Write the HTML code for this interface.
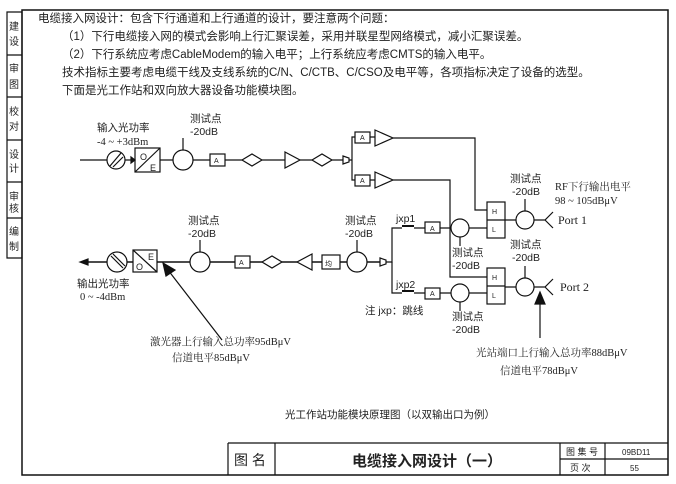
<!DOCTYPE html>
<html><head><meta charset="utf-8"><style>
body{margin:0;background:#fff;width:676px;height:484px;overflow:hidden;font-family:"Liberation Sans","Noto Sans CJK SC",sans-serif}
svg{position:absolute;left:0;top:0}
text{font-family:"Liberation Sans","Noto Sans CJK SC",sans-serif;fill:#222}
.s{font-family:"Liberation Serif","Noto Serif CJK SC",serif}
</style></head><body>
<svg width="676" height="484" viewBox="0 0 676 484" stroke="#111" fill="none" stroke-width="1.2">
<path d="M22 10H668V475H22Z" stroke-width="1.5"/>
<path d="M7 12H22V258H7Z"/>
<path d="M7 55H22M7 97H22M7 140H22M7 182H22M7 218H22"/>
<g stroke="none" fill="#333" font-size="10">
<text x="9" y="30">建</text><text x="9" y="45">设</text>
<text x="9" y="72">审</text><text x="9" y="88">图</text>
<text x="9" y="115">校</text><text x="9" y="130">对</text>
<text x="9" y="158">设</text><text x="9" y="172">计</text>
<text x="9" y="200">审</text><text x="9" y="212">核</text>
<text x="9" y="235">编</text><text x="9" y="250">制</text>
</g>
<g stroke="none" font-size="11.5" fill="#222">
<text x="38" y="22">电缆接入网设计：包含下行通道和上行通道的设计，要注意两个问题：</text>
<text x="62" y="40">（1）下行电缆接入网的模式会影响上行汇聚误差，采用并联星型网络模式，减小汇聚误差。</text>
<text x="62" y="58">（2）下行系统应考虑CableModem的输入电平；上行系统应考虑CMTS的输入电平。</text>
<text x="62" y="76">技术指标主要考虑电缆干线及支线系统的C/N、C/CTB、C/CSO及电平等，各项指标决定了设备的选型。</text>
<text x="62" y="94">下面是光工作站和双向放大器设备功能模块图。</text>
</g>
<path d="M80 160H107M125 160H135M160 160H173M193 160H210M225 160H242M262 160H285M300 160H312M332 160H343"/>
<circle cx="116" cy="160" r="9"/>
<path d="M110 166L121 153M113 167L123 157" />
<path d="M131 157L135 160L131 163Z" fill="#111"/>
<rect x="135" y="148" width="25" height="24"/><path d="M135 172L160 148"/>
<circle cx="183" cy="160" r="10"/><path d="M183 150V138"/>
<rect x="210" y="154" width="15" height="12"/>
<path d="M242 160L252 154L262 160L252 166Z"/>
<path d="M285 152L300 160L285 168Z"/>
<path d="M312 160L322 154L332 160L322 166Z"/>
<path d="M343 156L349 158V162L343 164Z"/>
<path d="M349 160H352M352 160V137H355M352 160V180H355"/>
<rect x="355" y="132" width="15" height="11"/><rect x="355" y="175" width="15" height="11"/>
<path d="M370 137H375M370 180H375"/>
<path d="M375 130L393 138L375 146Z"/><path d="M375 172L393 180L375 188Z"/>
<path d="M393 138H475V210H487M393 180H450V277H487"/>
<rect x="487" y="202" width="18" height="36"/><path d="M487 220H505"/>
<rect x="487" y="268" width="18" height="36"/><path d="M487 286H505"/>
<path d="M505 220H516M534 220H545L553 212M545 220L553 228"/>
<circle cx="525" cy="220" r="9"/><path d="M525 211V199"/>
<path d="M505 287H516M534 287H545L553 279M545 287L553 295"/>
<circle cx="525" cy="287" r="9"/><path d="M525 278V266"/>
<path d="M86 262H107M127 262H133M157 262H190M210 262H235M250 262H262M282 262H297M312 262H322M340 262H347M367 262H380" stroke-width="1.5"/>
<path d="M80 262L88 259V265Z" fill="#111"/>
<circle cx="117" cy="262" r="10"/><path d="M111 256L123 268M113 254L125 266"/>
<rect x="133" y="250" width="24" height="22"/><path d="M133 250L157 272"/>
<circle cx="200" cy="262" r="10"/><path d="M200 252V240"/>
<rect x="235" y="256" width="15" height="12"/>
<path d="M262 262L272 256L282 262L272 268Z"/>
<path d="M312 254L297 262L312 270Z"/>
<rect x="322" y="255" width="18" height="14"/>
<circle cx="357" cy="262" r="10"/><path d="M357 252V240"/>
<path d="M380 258L386 260V264L380 266Z"/>
<path d="M386 262H392V228H402M414 228H425M440 228H451M469 228H487"/>
<path d="M392 262V293H402M414 293H425M440 293H451M469 293H487"/>
<path d="M402 226H414M402 291H414" stroke-width="2"/>
<rect x="425" y="222" width="15" height="11"/><rect x="425" y="288" width="15" height="11"/>
<circle cx="460" cy="228" r="9"/><path d="M460 237V246"/>
<circle cx="460" cy="293" r="9"/><path d="M460 302V311"/>
<path d="M222 340L168 270"/><path d="M163 263L175 270L166 276Z" fill="#111"/>
<path d="M540 338V300"/><path d="M540 292L535 304H545Z" fill="#111"/>
<path d="M228 443H668M228 443V475M275 443V475M560 443V475M605 443V475M560 459H668"/>
<g stroke="none" fill="#222">
<g font-size="10.5">
<text x="97" y="131">输入光功率</text><text x="97" y="145" class="s">-4 ~ +3dBm</text>
<text x="190" y="122">测试点</text><text x="190" y="135">-20dB</text>
<text x="188" y="224">测试点</text><text x="188" y="237">-20dB</text>
<text x="345" y="224">测试点</text><text x="345" y="237">-20dB</text>
<text x="510" y="182">测试点</text><text x="512" y="195">-20dB</text>
<text x="510" y="248">测试点</text><text x="512" y="261">-20dB</text>
<text x="452" y="256">测试点</text><text x="452" y="269">-20dB</text>
<text x="452" y="320">测试点</text><text x="452" y="333">-20dB</text>
<text x="77" y="287">输出光功率</text><text x="80" y="300" class="s">0 ~ -4dBm</text>
<text x="555" y="190" class="s">RF下行输出电平</text><text x="555" y="204" class="s">98 ~ 105dBμV</text>
<text x="396" y="222">jxp1</text><text x="396" y="288">jxp2</text>
<text x="365" y="314">注 jxp：跳线</text>
<text x="150" y="345" class="s">激光器上行输入总功率95dBμV</text>
<text x="172" y="361" class="s">信道电平85dBμV</text>
<text x="476" y="356" class="s">光站端口上行输入总功率88dBμV</text>
<text x="500" y="374" class="s">信道电平78dBμV</text>
<text x="285" y="418">光工作站功能模块原理图（以双输出口为例）</text>
</g>
<g font-size="7" fill="#333">
<text x="214" y="163">A</text><text x="239" y="265">A</text>
<text x="360" y="140">A</text><text x="360" y="183">A</text>
<text x="430" y="231">A</text><text x="430" y="296">A</text>
<text x="325" y="266">均</text>
<text x="492" y="214">H</text><text x="492" y="232">L</text>
<text x="492" y="280">H</text><text x="492" y="298">L</text>
</g>
<text x="140" y="160" font-size="9">O</text><text x="150" y="171" font-size="9">E</text>
<text x="136" y="270" font-size="9">O</text><text x="148" y="260" font-size="9">E</text>
<text x="558" y="224" font-size="12" class="s">Port 1</text>
<text x="560" y="291" font-size="12" class="s">Port 2</text>
<text x="234" y="465" font-size="14">图 名</text>
<text x="352" y="466" font-size="15" font-weight="bold">电缆接入网设计（一）</text>
<text x="566" y="455" font-size="9">图 集 号</text><text x="570" y="471" font-size="9">页 次</text>
<text x="622" y="455" font-size="8">09BD11</text><text x="630" y="471" font-size="8">55</text>
</g>
</svg>
</body></html>
